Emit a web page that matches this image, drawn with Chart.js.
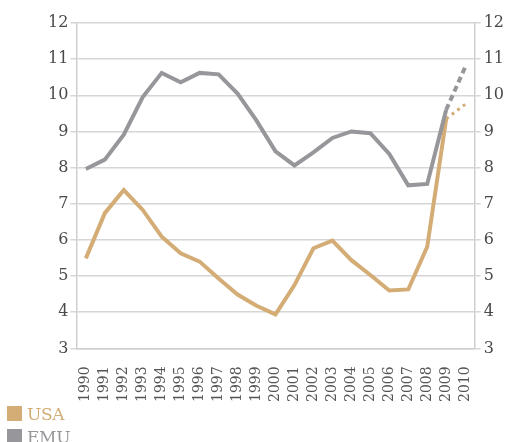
<!DOCTYPE html>
<html>
<head>
<meta charset="utf-8">
<script src="https://cdn.jsdelivr.net/npm/chart.js@4"></script>
<style>
    body { margin: 0; background: #fff; width: 507px; height: 442px; overflow: hidden; position: relative; }
    #wrap { position: absolute; left: 0; top: 0; width: 507px; height: 412px; }
    .legend { position: absolute; left: 7px; font-family: "DejaVu Serif", serif; font-size: 17px; line-height: 20px; letter-spacing: -0.3px; }
    .legend span.box { display: inline-block; width: 15px; height: 15px; margin-right: 5px; vertical-align: -1px; }
</style>
</head>
<body>
<div id="wrap"><canvas id="chart"></canvas></div>
<div class="legend" id="lgUsa" style="top:404px; color:#d4ad76;"><span class="box" style="background:#d4ad76"></span>USA</div>
<div class="legend" id="lgEmu" style="top:427px; color:#97979b;"><span class="box" style="background:#97979b"></span>EMU</div>
<script>
const years = ["1990", "1991", "1992", "1993", "1994", "1995", "1996", "1997", "1998", "1999",
    "2000", "2001", "2002", "2003", "2004", "2005", "2006", "2007", "2008", "2009", "2010"];
const usaValues = [5.49, 6.74, 7.38, 6.83, 6.09, 5.63, 5.40, 4.93, 4.49, 4.18,
    3.94, 4.75, 5.77, 5.98, 5.44, 5.03, 4.60, 4.63, 5.81, 9.35, 9.75];
const emuValues = [7.96, 8.22, 8.91, 9.95, 10.62, 10.36, 10.62, 10.58, 10.05, 9.30,
    8.45, 8.06, 8.42, 8.82, 9.00, 8.95, 8.38, 7.51, 7.55, 9.60, 10.78];
const yTicks = [3, 4, 5, 6, 7, 8, 9, 10, 11, 12];

const usaColor = "#d4ad76";
const emuColor = "#97979b";
const lastIdx = years.length - 2;

const tickFont = { family: "DejaVu Serif", size: 16 };

new Chart(document.getElementById("chart").getContext("2d"), {
    type: "line",
    data: {
        labels: years,
        datasets: [
            {
                label: "EMU", data: emuValues, borderColor: emuColor, borderWidth: 4,
                pointRadius: 0, tension: 0,
                segment: { borderDash: ctx => ctx.p0DataIndex >= lastIdx ? [6, 4] : undefined }
            },
            {
                label: "USA", data: usaValues, borderColor: usaColor, borderWidth: 4,
                pointRadius: 0, tension: 0,
                segment: {
                    borderDash: ctx => ctx.p0DataIndex >= lastIdx ? [3, 4] : undefined,
                    borderWidth: ctx => ctx.p0DataIndex >= lastIdx ? 3 : undefined
                }
            }
        ]
    },
    options: {
        responsive: true,
        maintainAspectRatio: false,
        animation: false,
        layout: { padding: { left: 46, right: 0, top: 23, bottom: 0 } },
        plugins: { legend: { display: false }, tooltip: { enabled: false } },
        scales: {
            x: {
                offset: true,
                grid: { display: false },
                border: { color: "#cfcfcf", width: 1.5 },
                ticks: { color: "#555", font: { family: "DejaVu Serif", size: 14 }, minRotation: 90, maxRotation: 90, autoSkip: false, padding: 10 }
            },
            y: {
                min: 3, max: 12,
                afterBuildTicks: axis => { axis.ticks = yTicks.map(v => ({ value: v })); },
                grid: { color: "#d6d6d6", lineWidth: 1.5, tickLength: 6 },
                border: { color: "#cfcfcf", width: 1.5 },
                ticks: { color: "#4a4a4a", font: tickFont, padding: 2 }
            },
            y1: {
                position: "right",
                min: 3, max: 12,
                afterBuildTicks: axis => { axis.ticks = yTicks.map(v => ({ value: v })); },
                grid: { drawOnChartArea: false, color: "#d6d6d6", lineWidth: 1.5, tickLength: 6 },
                border: { color: "#cfcfcf", width: 1.5 },
                ticks: { color: "#4a4a4a", font: tickFont, padding: 3 }
            }
        }
    }
});
</script>
</body>
</html>
